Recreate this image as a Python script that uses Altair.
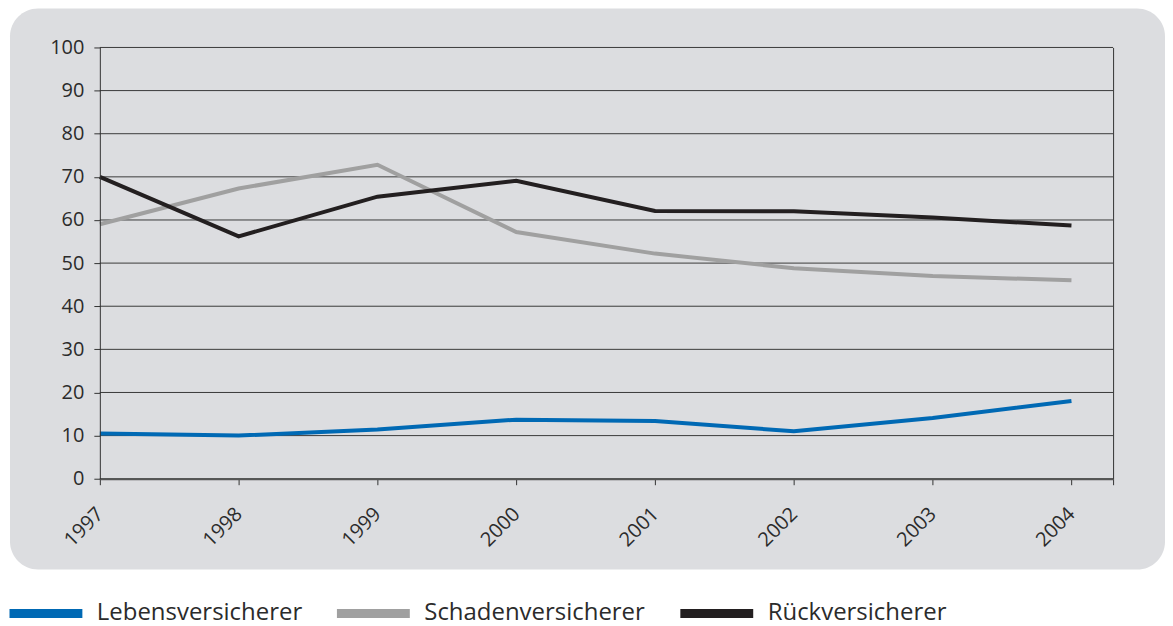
import altair as alt
import pandas as pd

years = [1997, 1998, 1999, 2000, 2001, 2002, 2003, 2004]
leben = [10.5, 10.0, 11.4, 13.7, 13.4, 11.0, 14.1, 18.0]
schaden = [59.0, 67.3, 72.8, 57.2, 52.2, 48.8, 47.0, 46.0]
rueck = [70.0, 56.2, 65.4, 69.1, 62.1, 62.0, 60.6, 58.7]
series = ["Lebensversicherer", "Schadenversicherer", "Rückversicherer"]
colors = ["#0069b4", "#a0a0a0", "#231f20"]
y_ticks = list(range(0, 101, 10))
x_ticks = years + [2004.3]

rows = []
for name, vals in zip(series, [leben, schaden, rueck]):
    for yr, v in zip(years, vals):
        rows.append({"Jahr": yr, "Wert": v, "Reihe": name})
df = pd.DataFrame(rows)
grid_df = pd.DataFrame({"Wert": y_ticks})

FONT = "Open Sans"
x_scale = alt.Scale(domain=[1997, 2004.3], nice=False, zero=False)
y_scale = alt.Scale(domain=[0, 100], nice=False)

panel = alt.Chart(pd.DataFrame({"p": [0]})).mark_rect(
    color="#dcdde0", cornerRadius=28
).encode(x=alt.value(-90), x2=alt.value(1067), y=alt.value(-39), y2=alt.value(523))

grid = alt.Chart(grid_df).mark_rule(color="#3a3a3a", strokeWidth=1).encode(
    y=alt.Y("Wert:Q", scale=y_scale,
            axis=alt.Axis(orient="right", ticks=False, labels=False, domain=True,
                          domainColor="#333333", domainWidth=1, grid=False, title=None, zindex=1))
)

lines = alt.Chart(df).mark_line(strokeWidth=4, strokeCap="butt").encode(
    x=alt.X("Jahr:Q", scale=x_scale,
            axis=alt.Axis(values=x_ticks, labelExpr="datum.value > 2004 ? '' : format(datum.value, 'd')",
                          labelAngle=315, labelAlign="right", labelBaseline="middle",
                          labelPadding=26, labelFontSize=20, labelFont=FONT, labelColor="#2b2b2b",
                          tickSize=6, tickColor="#333333", domainColor="#555555", domainWidth=2,
                          grid=False, title=None, zindex=1, labelFlush=False, labelOverlap=False)),
    y=alt.Y("Wert:Q", scale=y_scale,
            axis=alt.Axis(orient="left", values=y_ticks, labelFontSize=20, labelFont=FONT,
                          labelColor="#2b2b2b", labelPadding=10, tickSize=6, tickColor="#333333",
                          domainColor="#333333", grid=False, title=None, zindex=1)),
    color=alt.Color("Reihe:N", sort=series, scale=alt.Scale(domain=series, range=colors),
                    legend=alt.Legend(orient="none", legendX=-95, legendY=526, direction="horizontal",
                                      title=None, symbolType="stroke", symbolSize=5329,
                                      symbolStrokeWidth=9, labelFontSize=24, labelFont=FONT,
                                      labelColor="#2b2b2b", labelOffset=10, columnPadding=16,
                                      labelLimit=400, padding=0)),
)

chart = alt.layer(panel, grid, lines).resolve_axis(y="independent").properties(
    width=1015, height=432,
    autosize=alt.AutoSizeParams(type="none"),
    padding={"left": 92, "top": 39, "right": 52, "bottom": 149},
    background="white",
).configure_view(stroke=None)

chart.save("out.html", embed_options={"renderer": "svg", "actions": False})
